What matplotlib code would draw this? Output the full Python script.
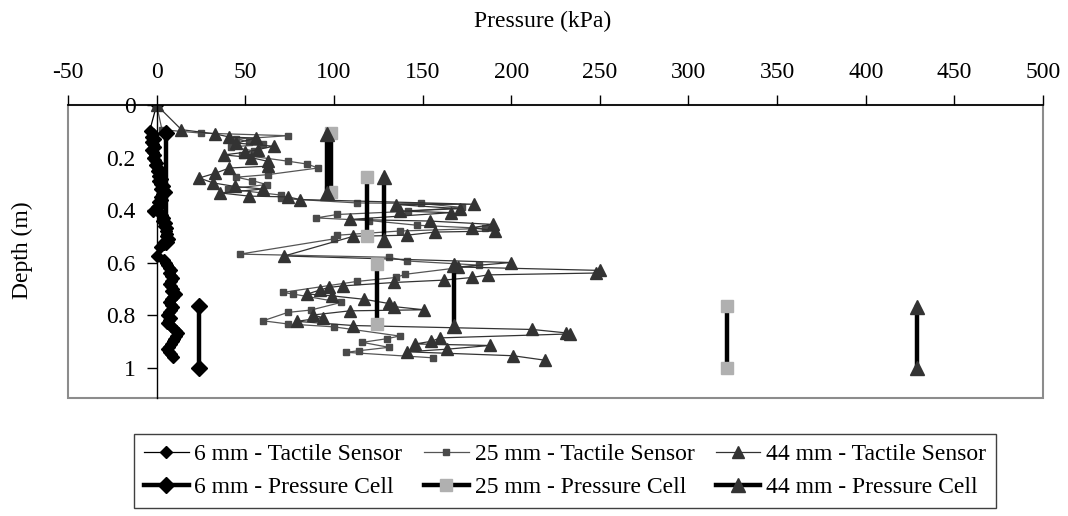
import numpy as np
import matplotlib
matplotlib.use("Agg")
from matplotlib import pyplot as plt
from matplotlib.patches import Rectangle

plt.rcParams['font.family'] = ['Liberation Serif', 'DejaVu Serif']
plt.rcParams['font.size'] = 17

nan = np.nan

#--------------------------- DATA ---------------------------

# 6 mm - tactile sensor
depth_6_ts = [0.0, 0.1, 0.11, 0.12, 0.13, 0.14, 0.15, 0.16, 0.17, 0.18, 0.19, 0.2,
              0.21, 0.22, 0.23, 0.24, 0.25, 0.26, 0.27, 0.28, 0.29, 0.3, 0.31, 0.32,
              0.33, 0.34, 0.35, 0.36, 0.37, 0.38, 0.39, 0.405, 0.41, 0.42, 0.43, 0.44,
              0.45, 0.46, 0.47, 0.48, 0.49, 0.5, 0.51, 0.52, 0.53, 0.54, 0.575, 0.59,
              0.6, 0.61, 0.62, 0.63, 0.64, 0.65, 0.66, 0.67, 0.68, 0.69, 0.7, 0.71,
              0.72, 0.73, 0.74, 0.75, 0.76, 0.77, 0.78, 0.79, 0.8, 0.81, 0.82, 0.83,
              0.84, 0.85, 0.86, 0.87, 0.88, 0.89, 0.9, 0.91, 0.92, 0.93, 0.94, 0.95, 0.96]
press_6_ts = [0, -4, -2, -3, -1, -3, -2, -1, -3, -2, -1, -2,
              -1, 0, -1, 1, 0, 2, 1, 3, 1, 2, 4, 2,
              5, 3, 2, 3, 1, 2, 0, -2, 2, 3, 4, 3,
              5, 4, 6, 5, 6, 5, 7, 6, 4, 2, 0, 4,
              5, 6, 7, 8, 7, 8, 9, 8, 7, 8, 9, 8,
              11, 9, 8, 7, 8, 9, 8, 7, 6, 8, 7, 6,
              8, 9, 11, 12, 11, 10, 9, 8, 7, 6, 7, 8, 9]

# 25 mm - tactile sensor
depth_25_ts = [0.0, 0.094, 0.107, 0.117, 0.13, 0.14, 0.15, 0.16, 0.175, 0.19, 0.214,
               0.225, 0.24, 0.265, 0.275, 0.288, 0.303, 0.32, 0.343, 0.356, 0.373,
               0.375, 0.39, 0.405, 0.417, 0.43, 0.44, 0.458, 0.47, 0.48, 0.496, 0.51,
               0.568, 0.58, 0.594, 0.61, 0.645, 0.657, 0.672, 0.714, 0.72, 0.752,
               0.781, 0.79, 0.822, 0.834, 0.845, 0.88, 0.89, 0.904, 0.923, 0.936,
               0.942, 0.963]
press_25_ts = [0, 3, 25, 74, 45, 52, 60, 42, 55, 48, 74,
               85, 91, 63, 45, 54, 62, 40, 70, 70, 113,
               149, 172, 142, 102, 90, 120, 147, 185, 137, 102, 100,
               47, 131, 141, 182, 140, 135, 113, 71, 77, 104,
               87, 74, 60, 74, 100, 137, 130, 116, 131, 114,
               107, 156]

# 44 mm - tactile sensor
depth_44_ts = [0.0, 0.094, 0.11, 0.122, 0.126, 0.145, 0.157, 0.17, 0.18, 0.19, 0.2,
               0.215, 0.233, 0.24, 0.26, 0.278, 0.297, 0.31, 0.32, 0.335, 0.347, 0.35,
               0.36, 0.378, 0.379, 0.395, 0.404, 0.41, 0.436, 0.442, 0.455, 0.467,
               0.48, 0.484, 0.496, 0.5, 0.575, 0.6, 0.617, 0.63, 0.64, 0.647, 0.657,
               0.667, 0.676, 0.689, 0.695, 0.705, 0.72, 0.727, 0.74, 0.756, 0.768,
               0.78, 0.784, 0.8, 0.81, 0.824, 0.84, 0.855, 0.868, 0.872, 0.887, 0.9,
               0.91, 0.916, 0.93, 0.94, 0.955, 0.972]
press_44_ts = [0, 14, 33, 41, 56, 45, 66, 57, 50, 38, 53,
               63, 63, 41, 33, 24, 32, 44, 60, 36, 52, 74,
               81, 179, 135, 171, 137, 166, 109, 154, 190, 178,
               191, 157, 141, 111, 72, 200, 170, 250, 248, 187, 178,
               162, 134, 105, 97, 92, 85, 99, 117, 131, 134,
               151, 109, 88, 94, 79, 111, 212, 231, 233, 160, 155,
               146, 188, 164, 141, 201, 219]

# pressure cells (nan = gap between pairs)
depth_6_pc = [0.105, 0.52, nan, 0.765, 1.0]
press_6_pc = [5.5, 5.5, nan, 24, 24]

depth_25_pc = [0.105, 0.33, nan, 0.275, 0.5, nan, 0.605, 0.833, nan, 0.765, 1.0]
press_25_pc = [98.5, 98.5, nan, 118.5, 118.5, nan, 124.5, 124.5, nan, 322, 322]

depth_44_pc = [0.11, 0.335, nan, 0.275, 0.515, nan, 0.61, 0.84, nan, 0.77, 1.0]
press_44_pc = [96, 96, nan, 128.5, 128.5, nan, 167.5, 167.5, nan, 429, 429]

xticks = list(range(-50, 501, 50))
yticks = [0, 0.2, 0.4, 0.6, 0.8, 1]
ytick_labels = ['0', '0.2', '0.4', '0.6', '0.8', '1']

#--------------------------- PLOT ---------------------------

fig = plt.figure(figsize=(10.68, 5.16), dpi=100)
ax = fig.add_axes([68/1068, 1-398/516, (1043-68)/1068, (398-105)/516])

l1, = ax.plot(press_6_ts, depth_6_ts, color='k', lw=0.9, marker='D', markersize=6,
              label='6 mm - Tactile Sensor')
l2, = ax.plot(press_25_ts, depth_25_ts, color='#555555', lw=0.9, marker='s', markersize=4,
              markerfacecolor='#4a4a4a', markeredgecolor='#4a4a4a', label='25 mm - Tactile Sensor')
l3, = ax.plot(press_44_ts, depth_44_ts, color='#333333', lw=0.9, marker='^', markersize=8,
              label='44 mm - Tactile Sensor')
p1, = ax.plot(press_6_pc, depth_6_pc, color='k', lw=3.2, marker='D', markersize=8.5,
              label='6 mm - Pressure Cell')
p2, = ax.plot(press_25_pc, depth_25_pc, color='k', lw=3.2, marker='s', markersize=8,
              markerfacecolor='#b0b0b0', markeredgecolor='#b0b0b0', label='25 mm - Pressure Cell')
p3, = ax.plot(press_44_pc, depth_44_pc, color='k', lw=3.2, marker='^', markersize=10,
              markerfacecolor='#333333', markeredgecolor='#333333', label='44 mm - Pressure Cell')

ax.set_xlim(-50, 500)
ax.set_ylim(1.116, 0)

ax.xaxis.tick_top()
ax.set_xticks(xticks)
ax.set_xticklabels([str(v) for v in xticks])
ax.tick_params(axis='x', direction='out', length=7, width=1, pad=9)

ax.set_yticks(yticks)
ax.set_yticklabels(ytick_labels)
ax.tick_params(axis='y', direction='out', length=7, width=1, pad=8)

ax.spines['left'].set_position(('data', 0))
ax.spines['left'].set_linewidth(1)
ax.spines['top'].set_linewidth(1.2)
ax.spines['right'].set_visible(False)
ax.spines['bottom'].set_visible(False)
ax.add_patch(Rectangle((0, 0), 1, 1, transform=ax.transAxes, fill=False,
                       edgecolor='#8c8c8c', lw=1.5, clip_on=False, zorder=0))

fig.text(543/1068, 1-21/516, 'Pressure (kPa)', ha='center', va='center')
fig.text(22/1068, 1-250/516, 'Depth (m)', rotation=90, ha='center', va='center')

handles = [l1, p1, l2, p2, l3, p3]
leg = fig.legend(handles, [h.get_label() for h in handles], ncol=3, loc='center',
                 bbox_to_anchor=(565/1068, 1-471/516), frameon=True, fancybox=False,
                 edgecolor='#404040', framealpha=1, handlelength=1.9,
                 columnspacing=0.9, handletextpad=0.25, borderpad=0.4, labelspacing=0.5)
leg.get_frame().set_linewidth(1)

plt.savefig('out.png', dpi=100)
